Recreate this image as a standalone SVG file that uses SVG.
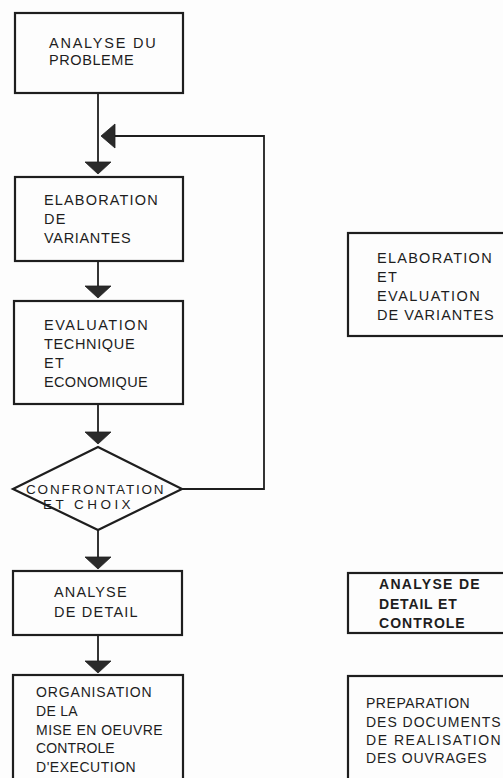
<svg xmlns="http://www.w3.org/2000/svg" width="503" height="778" viewBox="0 0 503 778">
<defs>
<style>
.box{fill:none;stroke:#1e1e1e;stroke-width:2.2}
.ln{fill:none;stroke:#1e1e1e;stroke-width:1.8}
.tri{fill:#2a2a2a;stroke:#1e1e1e;stroke-width:0.8}
text{font-family:"Liberation Sans",Arial,sans-serif;font-size:14.5px;fill:#1e1e1e;letter-spacing:1.4px}
.b{font-size:14px;font-weight:bold;letter-spacing:1.3px}
.c{font-size:14px;letter-spacing:0.3px}
.d{font-size:13.5px}
</style>
<polygon id="down" class="tri" points="-13,0 13,0 0,12"/>
</defs>
<rect width="503" height="778" fill="#fdfdfd"/>
<g id="connectors">
<line class="ln" x1="98" y1="93" x2="98" y2="163"/>
<polyline class="ln" points="115,136 264,136 264,489 182,489"/>
<polygon class="tri" points="101,136 115,124 115,148"/>
<use href="#down" x="98" y="162"/>
<line class="ln" x1="98" y1="261" x2="98" y2="287"/>
<use href="#down" x="98" y="286"/>
<line class="ln" x1="98" y1="404" x2="98" y2="433"/>
<use href="#down" x="98" y="432"/>
<line class="ln" x1="98" y1="530" x2="98" y2="558"/>
<use href="#down" x="98" y="557"/>
<line class="ln" x1="98" y1="635" x2="98" y2="662"/>
<use href="#down" x="98" y="661"/>
</g>
<g id="n1">
<rect class="box" x="15" y="13" width="168" height="80"/>
<text x="49" y="48" textLength="108">ANALYSE DU</text>
<text x="49" y="65" textLength="86">PROBLEME</text>
</g>
<g id="n2">
<rect class="box" x="15" y="177" width="168" height="84"/>
<text x="44" y="205" textLength="115">ELABORATION</text>
<text x="44" y="224">DE</text>
<text x="44" y="243" textLength="88">VARIANTES</text>
</g>
<g id="n3">
<rect class="box" x="14" y="301" width="169" height="103"/>
<text x="44" y="330" textLength="105">EVALUATION</text>
<text x="44" y="349" textLength="92">TECHNIQUE</text>
<text x="44" y="368">ET</text>
<text x="44" y="387" textLength="105">ECONOMIQUE</text>
</g>
<g id="n4">
<polygon class="box" points="98,447 182,489 98,530 13,489"/>
<text class="d" x="26" y="494" textLength="139">CONFRONTATION</text>
<text class="d" x="43" y="509" textLength="89">ET CHOIX</text>
</g>
<g id="n5">
<rect class="box" x="13" y="571" width="169" height="64"/>
<text x="54" y="597" textLength="74">ANALYSE</text>
<text x="54" y="617" textLength="85">DE DETAIL</text>
</g>
<g id="n6">
<rect class="box" x="13" y="675" width="170" height="125"/>
<text class="c" x="36" y="697" textLength="116">ORGANISATION</text>
<text class="c" x="36" y="716">DE LA</text>
<text class="c" x="36" y="735" textLength="127">MISE EN OEUVRE</text>
<text class="c" x="36" y="753" textLength="79">CONTROLE</text>
<text class="c" x="36" y="772" textLength="100">D'EXECUTION</text>
</g>
<g id="r1">
<rect class="box" x="348" y="233" width="175" height="103"/>
<text x="377" y="263" textLength="116">ELABORATION</text>
<text x="377" y="282">ET</text>
<text x="377" y="301" textLength="104">EVALUATION</text>
<text x="377" y="320" textLength="118">DE VARIANTES</text>
</g>
<g id="r2">
<rect class="box" x="348" y="573" width="175" height="60"/>
<text class="b" x="379" y="589" textLength="102">ANALYSE DE</text>
<text class="b" x="379" y="609" textLength="79">DETAIL ET</text>
<text class="b" x="379" y="628" textLength="87">CONTROLE</text>
</g>
<g id="r3">
<rect class="box" x="348" y="676" width="175" height="125"/>
<text class="c" x="366" y="708" textLength="104">PREPARATION</text>
<text class="c" x="366" y="727" textLength="135">DES DOCUMENTS</text>
<text class="c" x="366" y="745" textLength="135">DE REALISATION</text>
<text class="c" x="366" y="763" textLength="121">DES OUVRAGES</text>
</g>
</svg>
